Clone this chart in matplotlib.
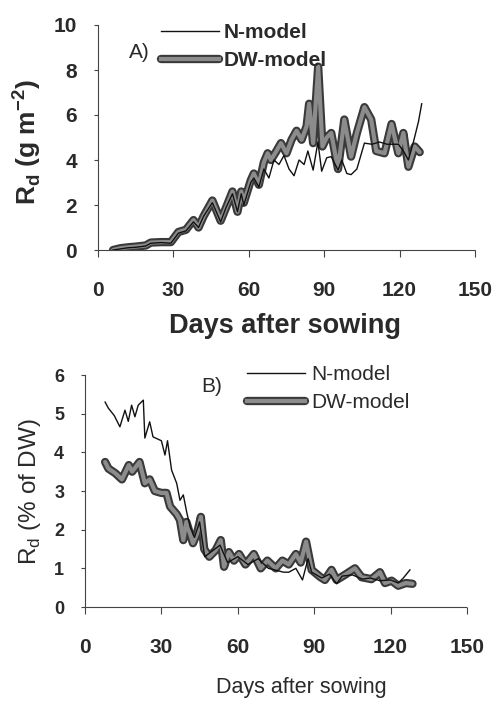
import matplotlib
matplotlib.use("Agg")
import matplotlib.pyplot as plt
import matplotlib.patheffects as pe
from matplotlib.lines import Line2D

plt.rcParams['font.family'] = ['Liberation Sans', 'DejaVu Sans']

# ---------------- Data ----------------
# Panel A: Rd (g m-2)
a_dw_days = [6, 9, 12, 15, 19, 21, 25, 29, 32, 35, 38, 40, 42, 45.5, 48.8, 51, 53.5, 55.5, 57, 58,
             60.8, 62, 64, 66, 67.5, 68.8, 71, 72.8, 75, 77, 79, 81, 83, 84, 85.6, 87.6, 89.3, 91,
             92.8, 95.5, 98, 100.7, 103, 106, 108.7, 110.7, 114, 116.8, 119.5, 121.5, 123.5, 126, 128]
a_dw_vals = [0.0, 0.08, 0.12, 0.15, 0.2, 0.33, 0.35, 0.35, 0.8, 0.9, 1.33, 1.0, 1.5, 2.2, 1.3, 1.9, 2.6, 1.7, 2.6, 2.1,
             3.1, 3.4, 2.9, 3.9, 4.3, 4.0, 4.4, 4.75, 4.3, 4.9, 5.3, 4.9, 5.5, 6.5, 4.75, 8.15, 4.6, 5.0,
             5.2, 3.6, 5.8, 4.15, 5.2, 6.35, 5.8, 4.4, 4.3, 5.6, 4.3, 5.2, 3.7, 4.6, 4.35]

a_n_days = [6, 9, 12, 15, 19, 21, 25, 29, 32, 35, 38, 40, 42, 45.5, 48.8, 51, 53.5, 55.5, 57, 58,
            60.8, 62, 64, 66, 68, 70, 72, 74, 76, 78, 80, 82, 83.5, 85.6, 87.5, 89, 91, 92.8,
            95.5, 97, 99, 100.7, 103, 106, 109, 112, 115, 119.5, 121.5, 123.5, 125.5, 127.5, 128.8]
a_n_vals = [0.0, 0.05, 0.1, 0.12, 0.18, 0.3, 0.33, 0.3, 0.75, 0.85, 1.25, 1.0, 1.5, 2.1, 1.25, 1.9, 2.5, 1.7, 2.5, 2.0,
            3.0, 3.2, 2.8, 3.6, 3.2, 4.0, 3.8, 4.2, 3.6, 3.3, 4.0, 3.8, 4.4, 3.55, 4.8, 3.5, 4.1, 4.15,
            3.55, 4.0, 3.4, 3.35, 3.6, 4.75, 4.7, 4.8, 4.7, 4.7, 4.4, 4.0, 4.8, 5.7, 6.5]

# Panel B: Rd (% of DW)
b_n_days = [7.9, 9.2, 11.5, 13.7, 15.7, 17, 18.3, 19.6, 20.9, 22.9, 23.5, 25.4, 26.7, 30, 31.4, 32.4,
            34, 36, 37.3, 38.6, 40, 41.3, 43, 45, 47, 50, 53, 56, 60, 64, 68, 72, 75, 78, 80,
            82.8, 85.4, 87.6, 89, 93, 96, 98.8, 101, 105, 109, 112, 115.8, 120, 123, 125, 127.6]
b_n_vals = [5.3, 5.14, 4.95, 4.66, 5.09, 4.8, 5.22, 4.92, 5.22, 5.35, 4.37, 4.79, 4.4, 4.3, 3.93, 4.3,
            3.54, 3.2, 2.76, 2.9, 2.43, 2.07, 1.8, 2.2, 1.3, 1.45, 1.6, 1.15, 1.3, 1.1, 1.25, 1.0, 0.95, 0.9, 0.9,
            1.0, 0.7, 1.25, 0.9, 0.75, 0.85, 0.6, 0.8, 0.83, 0.72, 0.75, 0.68, 0.7, 0.62, 0.75, 0.96]

b_dw_days = [7.9, 9.2, 11.9, 14.5, 17.2, 18.5, 21.4, 23.5, 25.4, 27.4, 30, 32, 33.4, 36, 37.3, 38.6,
             39.8, 42.4, 44, 45.5, 46.8, 48.8, 51.3, 53.3, 54.6, 56.5, 58.5, 60.5, 63, 66.3, 69,
             71.6, 74.9, 77.5, 80, 82.8, 84.7, 86.8, 89, 92.3, 94.2, 96.8, 98.8, 102, 106, 108.6,
             112.5, 115.8, 117.8, 120.4, 123, 126, 128.6]
b_dw_vals = [3.75, 3.58, 3.46, 3.3, 3.67, 3.5, 3.75, 3.2, 3.3, 3.0, 2.95, 2.95, 2.6, 2.4, 2.25, 1.73,
             2.2, 1.65, 1.9, 2.33, 1.5, 1.3, 1.47, 1.73, 1.04, 1.42, 1.2, 1.37, 1.1, 1.37, 1.0,
             1.2, 1.0, 1.2, 1.1, 1.37, 1.15, 1.69, 0.96, 0.78, 0.7, 0.96, 0.7, 0.83, 1.0, 0.77,
             0.72, 0.9, 0.62, 0.68, 0.55, 0.62, 0.6]

x_ticks = [0, 30, 60, 90, 120, 150]
a_y_ticks = [0, 2, 4, 6, 8, 10]
b_y_ticks = [0, 1, 2, 3, 4, 5, 6]
series_labels = ["N-model", "DW-model"]

# ---------------- Styling ----------------
W, H = 501, 701
fig = plt.figure(figsize=(W / 100, H / 100), dpi=100)
TXT = '#2a2a2a'
DW_INNER = '#8c8c8c'
dw_effects = [pe.Stroke(linewidth=6.0, foreground='#3a3a3a', joinstyle='round', capstyle='round'),
              pe.Normal()]


def style_axes(ax, ytick_size, xtick_size, weight):
    for s in ['top', 'right']:
        ax.spines[s].set_visible(False)
    for s in ['left', 'bottom']:
        ax.spines[s].set_linestyle((0, (1, 1)))
        ax.spines[s].set_linewidth(0.8)
        ax.spines[s].set_color('#444444')
    ax.set_xlim(0, 150)
    ax.set_xticks(x_ticks)
    ax.tick_params(axis='x', length=5, width=0.8, color='#444444', pad=17,
                   labelsize=xtick_size, labelcolor=TXT)
    ax.tick_params(axis='y', length=3, width=0.8, color='#444444', pad=12,
                   labelsize=ytick_size, labelcolor=TXT)
    for lab in ax.get_xticklabels() + ax.get_yticklabels():
        lab.set_fontweight(weight)


def add_lines(ax, n_days, n_vals, dw_days, dw_vals):
    ax.plot(dw_days, dw_vals, color=DW_INNER, linewidth=3.0, path_effects=dw_effects,
            solid_joinstyle='round', solid_capstyle='round', zorder=2)
    ax.plot(n_days, n_vals, color='#111111', linewidth=1.0, zorder=3)


def legend_handles():
    h1 = Line2D([], [], color='#111111', linewidth=1.0)
    h2 = Line2D([], [], color=DW_INNER, linewidth=3.0, path_effects=dw_effects)
    return [h1, h2]


# Panel A
axA = fig.add_axes([98 / W, 1 - 250 / H, 377 / W, 225 / H])
add_lines(axA, a_n_days, a_n_vals, a_dw_days, a_dw_vals)
axA.set_ylim(0, 10)
axA.set_yticks(a_y_ticks)
style_axes(axA, 15, 15, 'bold')
fig.text(285 / W, 1 - 326 / H, "Days after sowing", ha='center', va='center',
         fontsize=19.5, fontweight='bold', color=TXT)
fig.text(27 / W, 1 - 142 / H, r"R$_{\mathregular{d}}$ (g m$^{\mathregular{-2}}$)", rotation=90,
         ha='center', va='center', fontsize=19, fontweight='bold', color=TXT)
fig.text(139 / W, 1 - 52 / H, "A)", ha='center', va='center', fontsize=15, color=TXT)
legA = fig.legend(legend_handles(), series_labels, loc='upper left',
                  bbox_to_anchor=(161 / W, 1 - 23 / H), frameon=False,
                  handlelength=2.8, handletextpad=0.2, labelspacing=0.45,
                  borderpad=0, borderaxespad=0, prop={'size': 15, 'weight': 'bold'})
for t in legA.get_texts():
    t.set_color(TXT)

# Panel B
axB = fig.add_axes([85 / W, 1 - 607 / H, 382 / W, 232 / H])
add_lines(axB, b_n_days, b_n_vals, b_dw_days, b_dw_vals)
axB.set_ylim(0, 6)
axB.set_yticks(b_y_ticks)
style_axes(axB, 13, 15, 'bold')
fig.text(301 / W, 1 - 687 / H, "Days after sowing", ha='center', va='center',
         fontsize=15.5, color=TXT)
fig.text(30 / W, 1 - 492 / H, r"R$_{\mathregular{d}}$ (% of DW)", rotation=90,
         ha='center', va='center', fontsize=17.5, color=TXT)
fig.text(212 / W, 1 - 387 / H, "B)", ha='center', va='center', fontsize=15, color=TXT)
legB = fig.legend(legend_handles(), series_labels, loc='upper left',
                  bbox_to_anchor=(247 / W, 1 - 365 / H), frameon=False,
                  handlelength=2.8, handletextpad=0.3, labelspacing=0.45,
                  borderpad=0, borderaxespad=0, prop={'size': 15})
for t in legB.get_texts():
    t.set_color(TXT)

fig.savefig("out.png", dpi=100)
